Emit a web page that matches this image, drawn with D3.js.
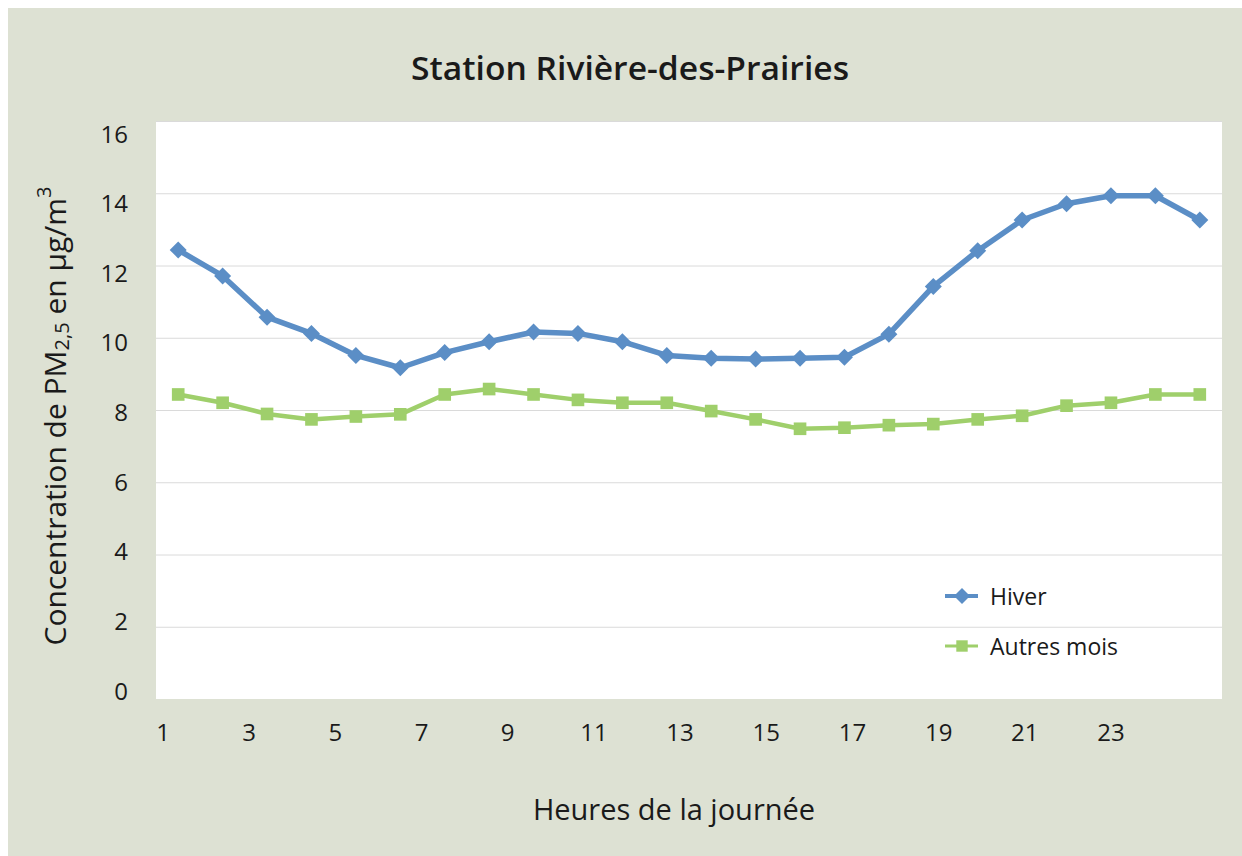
<!DOCTYPE html>
<html><head><meta charset="utf-8">
<script src="https://cdn.jsdelivr.net/npm/d3@7"></script>
<style>
html,body{margin:0;padding:0;background:#fff;}
svg{display:block;}
text{font-family:"Open Sans","Noto Sans",sans-serif;fill:#1a1a1a;}
</style></head>
<body>
<svg id="c" width="1242" height="856"></svg>
<script>
const hours = d3.range(1, 25);
const hiver = [12.43,11.71,10.57,10.12,9.51,9.17,9.59,9.89,10.16,10.12,9.89,9.51,9.43,9.41,9.43,9.46,10.10,11.42,12.41,13.26,13.71,13.93,13.93,13.26];
const autres = [8.43,8.20,7.89,7.74,7.82,7.88,8.43,8.58,8.43,8.28,8.20,8.20,7.97,7.74,7.48,7.51,7.58,7.61,7.74,7.84,8.12,8.20,8.43,8.43];
const xTickLabels = ["1","3","5","7","9","11","13","15","17","19","21","23"];
const yTicks = [0,2,4,6,8,10,12,14,16];
const seriesNames = ["Hiver","Autres mois"];
const title = "Station Rivière-des-Prairies";
const xTitle = "Heures de la journée";

const svg = d3.select("#c");
const W = 1242, H = 856;
const plot = {l:156, r:1222, t:121, b:699};
const blue = "#5b8ec6", green = "#9fcf6b";

svg.append("rect").attr("x",8).attr("y",8).attr("width",W-8).attr("height",H-8).attr("fill","#dde1d3");
svg.append("rect").attr("x",plot.l).attr("y",plot.t).attr("width",plot.r-plot.l).attr("height",plot.b-plot.t).attr("fill","#ffffff");

const x = d3.scaleBand().domain(hours).range([plot.l, plot.r]);
const cx = h => x(h) + x.bandwidth()/2;
const y = d3.scaleLinear().domain([0,16]).range([plot.b, plot.t]);

// gridlines
svg.append("g").selectAll("line").data(yTicks.filter(t=>t>0)).join("line")
  .attr("x1",plot.l).attr("x2",plot.r)
  .attr("y1",d=>y(d)+0.5).attr("y2",d=>y(d)+0.5)
  .attr("stroke","#dadada").attr("stroke-width",1);

// y tick labels (text layer slightly compressed, as in source)
const yLab = d3.scaleLinear().domain([0,16]).range([690,133]);
svg.append("g").selectAll("text").data(yTicks).join("text")
  .attr("x",128).attr("y",d=>yLab(d))
  .attr("text-anchor","end").attr("dominant-baseline","central")
  .attr("font-size",24).text(d=>d);

// x tick labels
const xLab = d3.scalePoint().domain(xTickLabels).range([163,1111]);
svg.append("g").selectAll("text").data(xTickLabels).join("text")
  .attr("x",d=>xLab(d)).attr("y",731)
  .attr("text-anchor","middle").attr("dominant-baseline","central")
  .attr("font-size",24).text(d=>d);

// title
svg.append("text").attr("x",630).attr("y",67).attr("text-anchor","middle")
  .attr("dominant-baseline","central").attr("font-size",33).attr("font-weight",600)
  .attr("textLength",438).attr("lengthAdjust","spacingAndGlyphs")
  .text(title);

// x title
svg.append("text").attr("x",674).attr("y",808).attr("text-anchor","middle")
  .attr("dominant-baseline","central").attr("font-size",29).attr("font-weight",400)
  .text(xTitle);

// y title
const yt = svg.append("text").attr("transform","translate(54,416) rotate(-90)")
  .attr("text-anchor","middle").attr("dominant-baseline","central")
  .attr("font-size",30).attr("font-weight",400);
yt.append("tspan").text("Concentration de PM");
yt.append("tspan").attr("font-size",20).attr("dy",7).text("2,5");
yt.append("tspan").attr("dy",-7).text(" en µg/m");
yt.append("tspan").attr("font-size",20).attr("dy",-11).text("3");

const line = d3.line().x((d,i)=>cx(hours[i])).y(d=>y(d));
const diamond = s => `M0,${-s}L${s},0L0,${s}L${-s},0Z`;

// series
function drawSeries(vals, color, width, mark){
  svg.append("path").datum(vals).attr("d",line).attr("fill","none")
    .attr("stroke",color).attr("stroke-width",width).attr("stroke-linejoin","round");
  svg.append("g").selectAll("path").data(vals).join("path")
    .attr("transform",(d,i)=>`translate(${cx(hours[i])},${y(d)})`)
    .attr("d",mark).attr("fill",color);
}
drawSeries(autres, green, 4.5, d3.symbol().type(d3.symbolSquare).size(160)());
drawSeries(hiver, blue, 5.5, diamond(8.5));

// legend
const legend = [
  {name:seriesNames[0], color:blue, mark:diamond(8), w:4, y:596},
  {name:seriesNames[1], color:green, mark:d3.symbol().type(d3.symbolSquare).size(130)(), w:3, y:646}
];
const lg = svg.append("g").selectAll("g").data(legend).join("g")
  .attr("transform",d=>`translate(945,${d.y})`);
lg.append("line").attr("x1",0).attr("x2",33).attr("stroke",d=>d.color).attr("stroke-width",d=>d.w);
lg.append("path").attr("transform","translate(17,0)").attr("d",d=>d.mark).attr("fill",d=>d.color);
lg.append("text").attr("x",45).attr("dominant-baseline","central").attr("font-size",23).text(d=>d.name);
</script>
</body></html>
